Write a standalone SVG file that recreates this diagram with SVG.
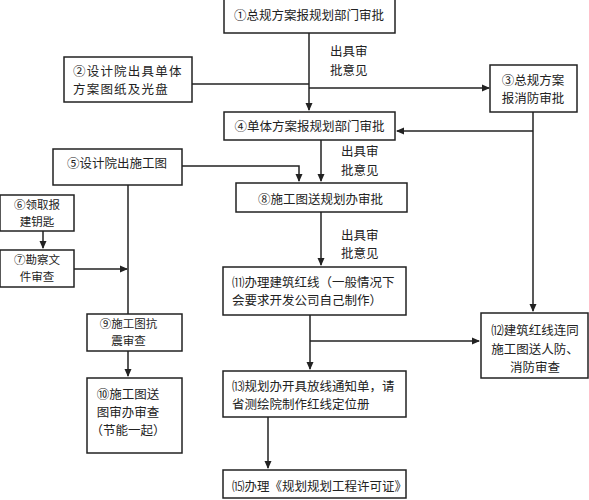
<svg xmlns="http://www.w3.org/2000/svg" width="589" height="500" viewBox="0 0 589 500">
<style>
.b{fill:#fff;stroke:#222;stroke-width:1.5}
.t{font-family:"Noto Sans CJK SC","Noto Sans CJK JP",sans-serif;font-size:12.5px;fill:#222}
.s{font-size:11.5px}
.c{text-anchor:middle}
.l{fill:none;stroke:#222;stroke-width:1.5}
</style>
<defs>
<marker id="a" markerWidth="8" markerHeight="8" refX="7" refY="4" orient="auto" markerUnits="userSpaceOnUse">
<path d="M0,0.5 L8,4 L0,7.5 Z" fill="#222"/>
</marker>
</defs>
<rect width="589" height="500" fill="#fff"/>
<g id="connectors">
<path class="l" d="M309,33 V110" marker-end="url(#a)"/>
<path class="l" d="M192,84 H309"/>
<path class="l" d="M309,88 H489" marker-end="url(#a)"/>
<path class="l" d="M533,112 V311" marker-end="url(#a)"/>
<path class="l" d="M533,131 H397" marker-end="url(#a)"/>
<path class="l" d="M321,140 V181" marker-end="url(#a)"/>
<path class="l" d="M182,166 H299 V181" marker-end="url(#a)"/>
<path class="l" d="M321,212 V265" marker-end="url(#a)"/>
<path class="l" d="M310,315 V369" marker-end="url(#a)"/>
<path class="l" d="M310,341 H479" marker-end="url(#a)"/>
<path class="l" d="M268,417 V468" marker-end="url(#a)"/>
<path class="l" d="M128,185 V314"/>
<path class="l" d="M43,231 V248" marker-end="url(#a)"/>
<path class="l" d="M74,269 H127" marker-end="url(#a)"/>
<path class="l" d="M128,351 V376" marker-end="url(#a)"/>
<text class="t" x="330" y="55.5">出具审</text>
<text class="t" x="330" y="74.5">批意见</text>
<text class="t" x="341" y="155.5">出具审</text>
<text class="t" x="341" y="174.5">批意见</text>
<text class="t" x="341" y="239.5">出具审</text>
<text class="t" x="341" y="257.5">批意见</text>
</g>
<g id="n1"><rect class="b" x="224" y="-1" width="171" height="34"/><text class="t c" x="309" y="19.5">①总规方案报规划部门审批</text></g>
<g id="n2"><rect class="b" x="64" y="57" width="128" height="45"/><text class="t" x="73" y="75.5" letter-spacing="1.2">②设计院出具单体</text><text class="t" x="73" y="93.5" letter-spacing="1.2">方案图纸及光盘</text></g>
<g id="n3"><rect class="b" x="490" y="65" width="87" height="47"/><text class="t c" x="533" y="84.5">③总规方案</text><text class="t c" x="533" y="103">报消防审批</text></g>
<g id="n4"><rect class="b" x="224" y="112" width="171" height="28"/><text class="t c" x="309.5" y="130.5">④单体方案报规划部门审批</text></g>
<g id="n5"><rect class="b" x="53" y="149" width="129" height="36"/><text class="t c" x="117" y="167.5">⑤设计院出施工图</text></g>
<g id="n8"><rect class="b" x="236" y="183" width="171" height="29"/><text class="t c" x="320.5" y="203.5">⑧施工图送规划办审批</text></g>
<g id="n6"><rect class="b" x="0" y="195" width="74" height="36"/><text class="t s c" x="37" y="208.5">⑥领取报</text><text class="t s c" x="37" y="225.5">建钥匙</text></g>
<g id="n7"><rect class="b" x="0" y="250" width="74" height="37"/><text class="t s c" x="37" y="264">⑦勘察文</text><text class="t s c" x="37" y="281">件审查</text></g>
<g id="n11"><rect class="b" x="223" y="267" width="183" height="48"/><text class="t" x="232" y="286.5">⑾办理建筑红线（一般情况下</text><text class="t" x="232" y="304.5">会要求开发公司自己制作）</text></g>
<g id="n12"><rect class="b" x="481" y="313" width="107" height="65"/><text class="t c" x="535" y="335">⑿建筑红线连同</text><text class="t c" x="535" y="353.5">施工图送人防、</text><text class="t c" x="535" y="371.5">消防审查</text></g>
<g id="n9"><rect class="b" x="87" y="314" width="95" height="37"/><text class="t s c" x="128.5" y="328">⑨施工图抗</text><text class="t s c" x="128.5" y="345">震审查</text></g>
<g id="n10"><rect class="b" x="87" y="378" width="95" height="75"/><text class="t c" x="128" y="398.5">⑩施工图送</text><text class="t c" x="128" y="416.5">图审办审查</text><text class="t c" x="128" y="434.5">（节能一起）</text></g>
<g id="n13"><rect class="b" x="223" y="371" width="183" height="46"/><text class="t" x="232" y="390.5">⒀规划办开具放线通知单，请</text><text class="t" x="232" y="408.5">省测绘院制作红线定位册</text></g>
<g id="n15"><rect class="b" x="223" y="470" width="183" height="28"/><text class="t" x="232" y="490.5">⒂办理《规划规划工程许可证》</text></g>
</svg>
